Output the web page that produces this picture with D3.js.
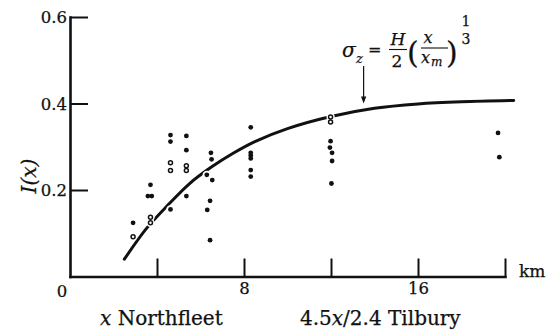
<!DOCTYPE html>
<html>
<head>
<meta charset="utf-8">
<script src="https://cdn.jsdelivr.net/npm/d3@7"></script>
<style>
  html, body { margin: 0; padding: 0; background: #fff; }
  svg { display: block; }
  text { font-family: "DejaVu Serif", "Liberation Serif", serif; fill: #111; stroke: #111; stroke-width: 0.25px; }
</style>
</head>
<body>
<svg id="chart" width="554" height="331"></svg>
<script>
// Observed relative intensity I(x) against distance downstream (km)
const obsKm = [
  2.90,
  3.70, 3.58, 3.76,
  4.62, 4.62, 4.62,
  5.35, 5.35, 5.35,
  6.48, 6.51, 6.29, 6.54, 6.44, 6.31, 6.44,
  8.31, 8.31, 8.31, 8.31, 8.31, 8.31,
  11.98, 11.95, 12.05, 12.05, 12.02,
  19.68, 19.74
];
const obsI = [
  0.124,
  0.212, 0.186, 0.186,
  0.327, 0.312, 0.155,
  0.325, 0.292, 0.186,
  0.286, 0.271, 0.235, 0.223, 0.175, 0.154, 0.084,
  0.345, 0.286, 0.280, 0.273, 0.246, 0.231,
  0.313, 0.298, 0.286, 0.267, 0.215,
  0.332, 0.276
];

// Observations printed as open rings
const ringKm = [2.90, 3.70, 3.70, 4.62, 4.62, 5.35, 5.35, 11.98, 11.98];
const ringI  = [0.092, 0.137, 0.124, 0.263, 0.245, 0.256, 0.245, 0.369, 0.357];

// Theoretical curve for sigma_z = H/2 (x/x_m)^(1/3)
const curveKm = [2.5, 3.5, 4.5, 5.5, 6.5, 7.5, 8.5, 10, 12, 14, 16, 18, 20.4];
const curveI  = [0.040, 0.110, 0.165, 0.215, 0.253, 0.285, 0.312, 0.342, 0.370, 0.389, 0.399, 0.404, 0.407];

// Axis ticks
const xTicks = [4, 8, 12, 16, 20];
const xTickLabels = ["", "8", "", "16", ""];
const yTicks = [0.2, 0.4, 0.6];

const svg = d3.select("#chart");

const x = d3.scaleLinear().domain([0, 20]).range([70, 505]);
const y = d3.scaleLinear().domain([0, 0.6]).range([276.5, 17]);

// ---- axes ----
const xAxis = d3.axisBottom(x)
  .tickValues(xTicks)
  .tickFormat((d, i) => xTickLabels[i])
  .tickSizeInner(-18)
  .tickSizeOuter(0)
  .tickPadding(6);

const yAxis = d3.axisLeft(y)
  .tickValues(yTicks)
  .tickFormat(d3.format(".1f"))
  .tickSizeInner(-18)
  .tickSizeOuter(0)
  .tickPadding(3);

const gx = svg.append("g").attr("transform", `translate(0,${y(0)})`).call(xAxis);
const gy = svg.append("g").attr("transform", `translate(${x(0)},0)`).call(yAxis);

[gx, gy].forEach(g => {
  g.attr("font-family", null).attr("font-size", null);
  g.select(".domain").attr("stroke", "#111").attr("stroke-width", 2.6).attr("stroke-linecap", "square");
  g.selectAll(".tick line").attr("stroke", "#111").attr("stroke-width", 2);
  g.selectAll(".tick text")
    .style("font-family", '"DejaVu Serif", serif')
    .style("font-size", "16.5px")
    .attr("fill", "#111");
});
gy.selectAll(".tick text").attr("dy", "0.36em");

// origin label
svg.append("text").attr("x", x(0) - 8).attr("y", 297)
  .attr("text-anchor", "middle").style("font-size", "16.5px").text("0");

// unit
svg.append("text").attr("x", 519).attr("y", 277)
  .style("font-size", "17px").text("km");

// y axis title
svg.append("text")
  .attr("transform", `translate(36,${y(0.2) - 14}) rotate(-90)`)
  .attr("text-anchor", "middle")
  .style("font-size", "20px")
  .style("font-style", "italic")
  .text("I(x)");

// station labels below the distance axis
const stations = svg.append("g").style("font-size", "20px");
const north = stations.append("text").attr("x", 100).attr("y", 325);
north.append("tspan").style("font-style", "italic").text("x");
north.append("tspan").text(" Northfleet");
const til = stations.append("text").attr("x", 300).attr("y", 325);
til.append("tspan").text("4.5");
til.append("tspan").style("font-style", "italic").text("x");
til.append("tspan").text("/2.4 Tilbury");

// ---- theoretical curve ----
const curvePts = curveKm.map((k, i) => [k, curveI[i]]);
const line = d3.line()
  .x(d => x(d[0]))
  .y(d => y(d[1]))
  .curve(d3.curveCatmullRom.alpha(0.5));

svg.append("path")
  .datum(curvePts)
  .attr("d", line)
  .attr("fill", "none")
  .attr("stroke", "#111")
  .attr("stroke-width", 3)
  .attr("stroke-linecap", "round");

// ---- observations (white halo breaks the curve where they overlap) ----
const solid = obsKm.map((k, i) => ({ k, v: obsI[i] }));
const rings = ringKm.map((k, i) => ({ k, v: ringI[i] }));

svg.append("g").selectAll("circle")
  .data(solid.concat(rings))
  .join("circle")
  .attr("cx", d => x(d.k)).attr("cy", d => y(d.v))
  .attr("r", 4.2).attr("fill", "#fff");

svg.append("g").selectAll("circle")
  .data(solid)
  .join("circle")
  .attr("cx", d => x(d.k)).attr("cy", d => y(d.v))
  .attr("r", 2.4).attr("fill", "#111");

svg.append("g").selectAll("circle")
  .data(rings)
  .join("circle")
  .attr("cx", d => x(d.k)).attr("cy", d => y(d.v))
  .attr("r", 2.0).attr("fill", "#fff")
  .attr("stroke", "#111").attr("stroke-width", 1.5);

// ---- formula annotation with arrow onto the curve ----
const ann = svg.append("g");
const arrowKm = 13.5;
const ax = x(arrowKm);
const tipY = y(0.386) - 6;
ann.append("line").attr("x1", ax).attr("x2", ax).attr("y1", 66).attr("y2", tipY - 5)
  .attr("stroke", "#111").attr("stroke-width", 1.2);
ann.append("path")
  .attr("d", `M${ax - 2.6},${tipY - 7} L${ax},${tipY} L${ax + 2.6},${tipY - 7} Z`)
  .attr("fill", "#111");

const it = "italic";
function t(xp, yp, s, size, style, anchor) {
  return ann.append("text").attr("x", xp).attr("y", yp)
    .attr("text-anchor", anchor || "start")
    .style("font-size", size + "px")
    .style("font-style", style || "normal")
    .text(s);
}
t(342, 57, "σ", 20, it);
t(356, 63, "z", 13, it);
t(368, 55, "=", 16);
t(398, 45, "H", 17, it, "middle");
ann.append("line").attr("x1", 389).attr("x2", 407).attr("y1", 49.5).attr("y2", 49.5)
  .attr("stroke", "#111").attr("stroke-width", 1.1);
t(397, 67, "2", 17, null, "middle");
t(407, 63, "(", 30);
t(428, 43, "x", 16, it, "middle");
ann.append("line").attr("x1", 421).attr("x2", 448).attr("y1", 48).attr("y2", 48)
  .attr("stroke", "#111").attr("stroke-width", 1.1);
t(421, 63, "x", 16, it);
t(431, 66, "m", 12, it);
t(446, 63, ")", 30);
t(466, 26, "1", 14, null, "middle");
t(466, 44, "3", 14, null, "middle");
</script>
</body>
</html>
